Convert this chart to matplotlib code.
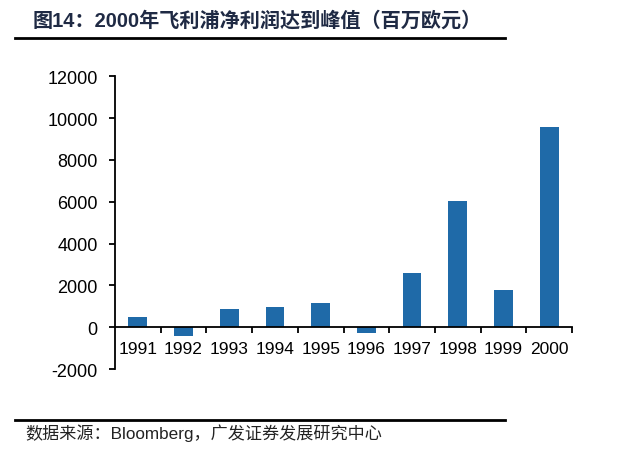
import matplotlib
matplotlib.use("Agg")
import matplotlib.pyplot as plt
from matplotlib.lines import Line2D

years = ["1991", "1992", "1993", "1994", "1995", "1996", "1997", "1998", "1999", "2000"]
net_profit = [500, -420, 880, 960, 1150, -260, 2600, 6040, 1790, 9580]
y_ticks = [-2000, 0, 2000, 4000, 6000, 8000, 10000, 12000]

title = "图14：2000年飞利浦净利润达到峰值（百万欧元）"
source = "数据来源：Bloomberg，广发证券发展研究中心"

plt.rcParams['font.family'] = ['Liberation Sans', 'Noto Sans CJK SC', 'DejaVu Sans']

fig = plt.figure(figsize=(6.44, 4.56), dpi=100)
W, H = 644, 456

ax = fig.add_axes([115 / W, 1 - 370.1 / H, (572 - 115) / W, (370.1 - 77.3) / H])
x = list(range(len(years)))
ax.bar(x, net_profit, width=0.41, color="#1F6AA8", zorder=2)

ax.spines['top'].set_visible(False)
ax.spines['right'].set_visible(False)
ax.spines['bottom'].set_position(('data', 0))
ax.spines['bottom'].set_linewidth(1.3)
ax.spines['left'].set_linewidth(1.3)

ax.set_xlim(-0.5, len(years) - 0.5)
ax.set_ylim(-2000, 12000)
ax.set_yticks(y_ticks)
ax.set_yticklabels([str(v) for v in y_ticks])
ax.set_xticks(x)
ax.set_xticklabels(years)
ax.set_xticks([i + 0.5 for i in range(len(years))], minor=True)

ax.tick_params(axis='x', which='major', length=0, pad=10, labelsize=12.5)
ax.tick_params(axis='x', which='minor', direction='out', length=4, width=1.3)
ax.tick_params(axis='y', direction='out', length=4, width=1.3, pad=8.5, labelsize=13)

fig.text(33 / W, 1 - 21 / H, title, fontsize=14.5, fontweight='bold',
         color="#1f2a44", va='center', ha='left')
fig.add_artist(Line2D([15 / W, 505 / W], [1 - 39 / H, 1 - 39 / H], color='black', lw=2,
                      transform=fig.transFigure))
fig.add_artist(Line2D([15 / W, 505 / W], [1 - 421 / H, 1 - 421 / H], color='black', lw=2,
                      transform=fig.transFigure))
fig.text(25 / W, 1 - 433 / H, source, fontsize=12.3, color="#222222", va='center', ha='left')

fig.savefig("out.png", dpi=100)
